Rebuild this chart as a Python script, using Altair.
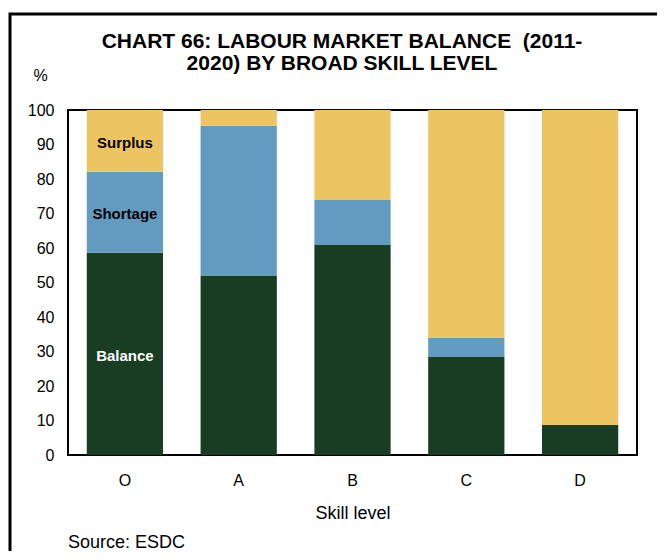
import altair as alt
import pandas as pd

skills = ["O", "A", "B", "C", "D"]
balance = [58.6, 52.0, 60.9, 28.4, 8.7]
shortage = [23.5, 43.4, 13.0, 5.5, 0.0]
surplus = [17.9, 4.6, 26.1, 66.1, 91.3]
components = ["Balance", "Shortage", "Surplus"]
colors = ["#183D23", "#619BBF", "#EDC462"]
y_ticks = list(range(0, 101, 10))
title_lines = ["CHART 66: LABOUR MARKET BALANCE \u00a0(2011-", "2020) BY BROAD SKILL LEVEL"]
source_text = "Source: ESDC"

rows = []
for i, s in enumerate(skills):
    for j, (comp, vals) in enumerate(zip(components, [balance, shortage, surplus])):
        rows.append({"skill": s, "component": comp, "value": vals[i], "rank": j})
df = pd.DataFrame(rows)

FONT = "Liberation Sans"
W, H = 569, 345

x_axis = alt.Axis(
    title="Skill level",
    labelAngle=0,
    labelFontSize=16,
    labelPadding=17,
    labelColor="#000000",
    ticks=False,
    domain=False,
    titleFontSize=18,
    titleFontWeight="normal",
    titleColor="#000000",
    titleY=63,
    titleBaseline="alphabetic",
)
x_scale = alt.Scale(paddingInner=0.33, paddingOuter=0.165)

y_axis = alt.Axis(
    values=y_ticks,
    grid=False,
    ticks=False,
    domain=False,
    labelOverlap=False,
    labelFontSize=16,
    labelPadding=14,
    labelColor="#000000",
    title="%",
    titleAngle=0,
    titleX=-28,
    titleY=-30,
    titleAlign="center",
    titleBaseline="alphabetic",
    titleFontSize=16,
    titleFontWeight="normal",
    titleColor="#000000",
)
y_scale = alt.Scale(domain=[0, 100], nice=False)

bars = alt.Chart(df).mark_bar().encode(
    x=alt.X("skill:N", sort=skills, scale=x_scale, axis=x_axis),
    y=alt.Y("value:Q", stack="zero", scale=y_scale, axis=y_axis),
    color=alt.Color("component:N", scale=alt.Scale(domain=components, range=colors), legend=None),
    order=alt.Order("rank:Q", sort="ascending"),
)

labels = (
    alt.Chart(df)
    .transform_window(cum="sum(value)", groupby=["skill"], sort=[alt.SortField("rank")], frame=[None, 0])
    .transform_calculate(mid="datum.cum - datum.value / 2")
    .transform_filter(alt.datum.skill == "O")
    .mark_text(fontWeight="bold", fontSize=15, font=FONT, dy=2)
    .encode(
        x=alt.X("skill:N", sort=skills, scale=x_scale, axis=x_axis),
        y=alt.Y("mid:Q", scale=y_scale, axis=y_axis),
        text="component:N",
        color=alt.condition(alt.datum.component == "Balance", alt.value("#FFFFFF"), alt.value("#000000")),
    )
)

source = (
    alt.Chart(pd.DataFrame({"t": [source_text]}))
    .mark_text(align="left", baseline="alphabetic", fontSize=18, font=FONT, color="#000000")
    .encode(x=alt.value(0), y=alt.value(H + 93), text="t:N")
)

title = (
    alt.Chart(pd.DataFrame({"t": ["\n".join(title_lines)]}))
    .mark_text(
        align="center",
        baseline="alphabetic",
        fontSize=21,
        fontWeight="bold",
        font=FONT,
        color="#000000",
        lineBreak="\n",
        lineHeight=22.5,
    )
    .encode(x=alt.value(274), y=alt.value(-62.5), text="t:N")
)

border = (
    alt.Chart(pd.DataFrame({"a": [0]}))
    .mark_rect(fillOpacity=0, stroke="#000000", strokeWidth=3)
    .encode(x=alt.value(-58), y=alt.value(-96), x2=alt.value(700), y2=alt.value(600))
)

chart = (
    alt.layer(border, bars, labels, source, title)
    .properties(
        width=W,
        height=H,
        autosize=alt.AutoSizeParams(type="none"),
        padding={"left": 60, "top": 102, "right": 20, "bottom": 96},
    )
    .configure(font=FONT)
    .configure_view(stroke="#000000", strokeWidth=2)
)

chart.save("out.html", embed_options={"renderer": "svg", "actions": False})
